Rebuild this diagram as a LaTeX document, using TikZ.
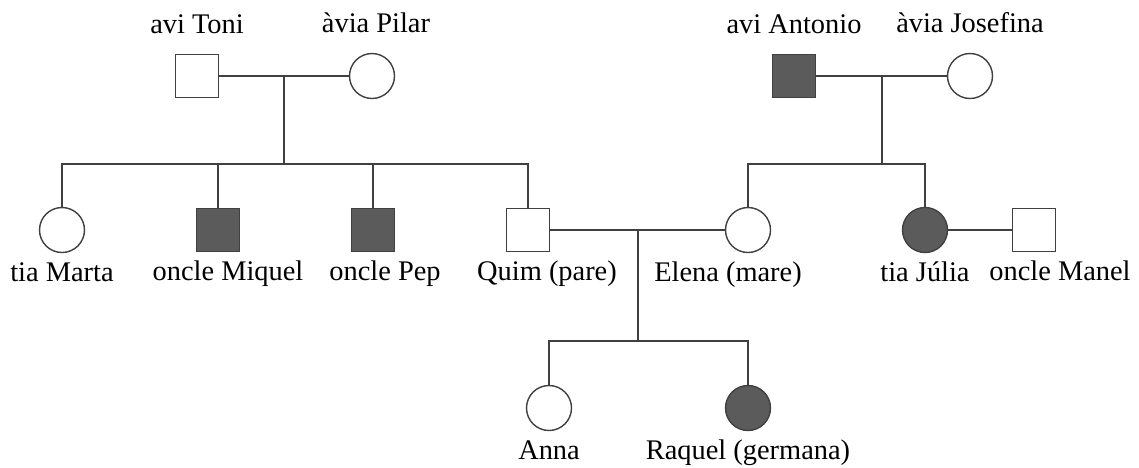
\documentclass[tikz,border=0pt]{standalone}
\usepackage{fontspec}
\setmainfont{Liberation Serif}
\usetikzlibrary{positioning}
\definecolor{affected}{HTML}{5B5B5B}
\definecolor{lineclr}{HTML}{404040}

\begin{document}
\begin{tikzpicture}[x=0.5pt,y=-0.5pt,
    every node/.style={font=\fontsize{14.2}{16}\selectfont},
    male/.style={rectangle,draw=lineclr,line width=0.7pt,fill=white,minimum size=21.5pt,inner sep=0pt},
    female/.style={circle,draw=lineclr,line width=0.7pt,fill=white,minimum size=22.5pt,inner sep=0pt},
    ill/.style={fill=affected},
    lbl/.style={inner sep=0pt,text height=0.66em,text depth=0pt},
    link/.style={draw=lineclr,line width=0.7pt}]
\useasboundingbox (0,0) rectangle (1139,467);

\begin{scope}
    \node[male] (Toni) at (197,76) {};
    \node[female] (Pilar) at (372,76) {};
    \node[male,ill] (Antonio) at (794,76) {};
    \node[female] (Josefina) at (970,76) {};

    \node[female] (Marta) at (62,230) {};
    \node[male,ill] (Miquel) at (218,230) {};
    \node[male,ill] (Pep) at (373,230) {};
    \node[male] (Quim) at (528,230) {};
    \node[female] (Elena) at (748,230) {};
    \node[female,ill] (Julia) at (925,230) {};
    \node[male] (Manel) at (1034,230) {};

    \node[female] (Anna) at (549,408) {};
    \node[female,ill] (Raquel) at (748,408) {};
\end{scope}

\begin{scope}[every node/.append style={lbl}]
    \node[above=10pt of Toni] (ToniL) {avi Toni};
    \node[above=10pt of Pilar,xshift=2pt] (PilarL) {àvia Pilar};
    \node[above=10pt of Antonio] (AntonioL) {avi Antonio};
    \node[above=10pt of Josefina] (JosefinaL) {àvia Josefina};
    \node[below=7.5pt of Marta] (MartaL) {tia Marta};
    \node[below=7.5pt of Miquel,xshift=5pt] (MiquelL) {oncle Miquel};
    \node[below=7.5pt of Pep,xshift=6pt] (PepL) {oncle Pep};
    \node[below=7.5pt of Quim,xshift=9.5pt] (QuimL) {Quim (pare)};
    \node[below=7.5pt of Elena,xshift=-10pt] (ElenaL) {Elena (mare)};
    \node[below=7.5pt of Julia] (JuliaL) {tia Júlia};
    \node[below=7.5pt of Manel,xshift=13pt] (ManelL) {oncle Manel};
    \node[below=7.5pt of Anna] (AnnaL) {Anna};
    \node[below=7.5pt of Raquel] (RaquelL) {Raquel (germana)};
\end{scope}

\coordinate (TP) at (284,76);
\coordinate (TPkids) at (284,164);
\coordinate (AJ) at (882,76);
\coordinate (AJkids) at (882,164);
\coordinate (QE) at (638,230);
\coordinate (QEkids) at (638,341);

\begin{scope}[every path/.style={link}]
    \draw (Toni) -- (Pilar);
    \draw (TP) -- (TPkids);
    \draw (Marta) |- (TPkids) -| (Quim);
    \draw (Miquel) -- (Miquel |- TPkids);
    \draw (Pep) -- (Pep |- TPkids);

    \draw (Antonio) -- (Josefina);
    \draw (AJ) -- (AJkids);
    \draw (Elena) |- (AJkids) -| (Julia);
    \draw (Julia) -- (Manel);

    \draw (Quim) -- (Elena);
    \draw (QE) -- (QEkids);
    \draw (Anna) |- (QEkids) -| (Raquel);
\end{scope}
\end{tikzpicture}
\end{document}
